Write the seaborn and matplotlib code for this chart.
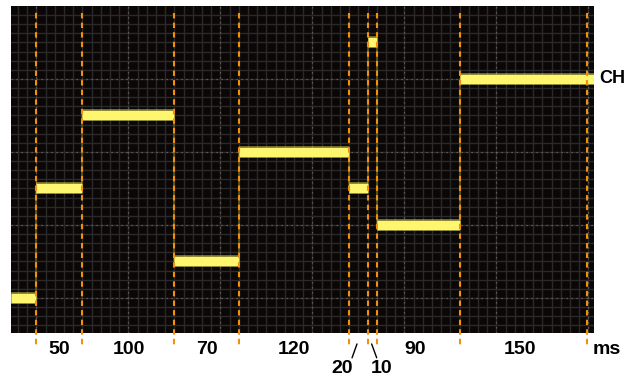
import numpy as np
import pandas as pd
import matplotlib.pyplot as plt
import seaborn as sns

# step levels (in screen divisions) and segment boundaries (ms)
seg_start = [-28, 0, 50, 150, 220, 340, 360, 370, 460]
seg_end = [0, 50, 150, 220, 340, 360, 370, 460, 606]
levels = [0.0, 1.5, 2.5, 0.5, 2.0, 1.5, 3.5, 1.0, 3.0]

# dashed marker positions (ms) and the duration labels between them
marker_ms = [0, 50, 150, 220, 340, 360, 370, 460, 598]
dur_labels = ["50", "100", "70", "120", "20", "10", "90", "150"]

sns.set_style("dark")
plt.rcParams["font.family"] = ["Liberation Sans", "DejaVu Sans"]
plt.rcParams["text.color"] = "black"

rows = []
for i, (s, e, lv) in enumerate(zip(seg_start, seg_end, levels)):
    rows.append({"t": s, "v": lv, "seg": i})
    rows.append({"t": e, "v": lv, "seg": i})
df = pd.DataFrame(rows)

fig = plt.figure(figsize=(6.24, 3.78), dpi=100)
ax = fig.add_axes([11 / 624, 45 / 378, 583 / 624, 327 / 378])
ax.set_facecolor("#0b0707")
ax.set_xlim(-27.7, 606)
ax.set_ylim(-0.48, 4.0)

# minor grid
for x in np.arange(-20, 610, 10):
    ax.axvline(x, color="#2a2a2a", lw=1.0, zorder=1)
for y in np.arange(-0.375, 4.0, 0.125):
    ax.axhline(y, color="#2a2a2a", lw=1.0, zorder=1)
# major dotted division lines
for x in np.arange(0, 601, 100):
    ax.axvline(x, color="#6a6a6a", lw=0.9, ls=(0, (1, 3)), zorder=2)
for y in [0, 1, 2, 3]:
    ax.axhline(y, color="#6a6a6a", lw=0.9, ls=(0, (1, 3)), zorder=2)

# faint transitions
for i in range(1, len(levels)):
    ax.plot([seg_start[i], seg_start[i]], [levels[i - 1], levels[i]],
            color="#5e5d1c", lw=1.2, zorder=3)

# trace: fuzzy edge + bright core
sns.lineplot(data=df, x="t", y="v", units="seg", estimator=None, sort=False,
             color="#d8d245", lw=8.6, alpha=0.5, ax=ax, zorder=4,
             solid_capstyle="butt")
sns.lineplot(data=df, x="t", y="v", units="seg", estimator=None, sort=False,
             color="#fdf66e", lw=6.8, ax=ax, zorder=5, solid_capstyle="butt")

# dashed orange markers
for m in marker_ms:
    ax.plot([m, m], [3.9, -0.66], color="#f0900c", lw=1.5,
            ls=(0, (2.6, 2.0)), clip_on=False, zorder=6)

# duration labels
lab_y = -0.70
for i, lab in enumerate(dur_labels):
    mid = (marker_ms[i] + marker_ms[i + 1]) / 2
    if lab == "20":
        ax.text(mid - 18, -0.97, lab, ha="center", va="center",
                fontsize=14, fontweight="bold", clip_on=False)
        ax.plot([mid - 7, mid - 1.6], [-0.82, -0.63], color="black",
                lw=1.0, clip_on=False)
    elif lab == "10":
        ax.text(mid + 10.5, -0.97, lab, ha="center", va="center",
                fontsize=14, fontweight="bold", clip_on=False)
        ax.plot([mid - 0.7, mid + 4.8], [-0.63, -0.82], color="black",
                lw=1.0, clip_on=False)
    else:
        ax.text(mid - 3 if lab in ("90", "150") else mid, lab_y, lab,
                ha="center", va="center", fontsize=14, fontweight="bold",
                clip_on=False)
ax.text(604, lab_y, "ms", ha="left", va="center", fontsize=14,
        fontweight="bold", clip_on=False)
ax.text(611.5, levels[-1], "CH", ha="left", va="center", fontsize=13,
        fontweight="bold", clip_on=False)

ax.set_xticks([])
ax.set_yticks([])
ax.set_xlabel("")
ax.set_ylabel("")
ax.grid(False)
for s in ax.spines.values():
    s.set_visible(False)
if ax.get_legend():
    ax.get_legend().remove()

fig.savefig("out.png", dpi=100, facecolor="white")
